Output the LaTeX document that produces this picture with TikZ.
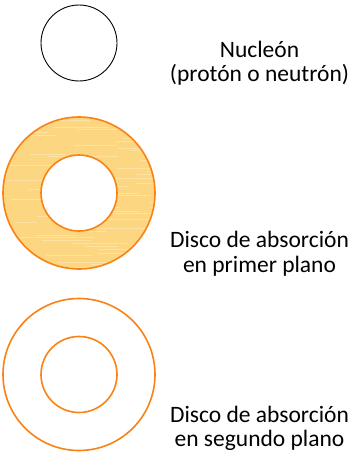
\documentclass[tikz,border=0pt]{standalone}
\usepackage{fontspec}
\setmainfont{Carlito}
\definecolor{ringorange}{HTML}{FA8214}
\definecolor{ringfill}{HTML}{FCD680}
\definecolor{streak}{HTML}{FEE6AC}
\begin{document}
\begin{tikzpicture}[x=1pt,y=-1pt,
  ring/.style={draw=ringorange,line width=1.6pt},
  nucleon/.style={draw=black,line width=0.9pt},
  label/.style={font=\fontsize{23.5}{24.5}\selectfont,align=center,inner sep=0pt}]
\useasboundingbox (0,0) rectangle (350,452);
% nucleon
\node[nucleon,circle,minimum size=76pt,inner sep=0pt] (nuc) at (79,43) {};
\node[label] (tnuc) at (259.5,63) {Nucleón\\(protón o neutrón)};
% foreground disc
\fill[ringfill,even odd rule] (79,193) circle (76) (79,193) circle (38);
\begin{scope}[even odd rule]
  \clip (79,193) circle (76) (79,193) circle (38);
  \pgfmathsetseed{7}
  \foreach \k in {0,...,50} {
    \pgfmathsetmacro{\yy}{117+\k*3+rnd*1.5}
    \pgfmathsetmacro{\xa}{rnd*150}
    \pgfmathsetmacro{\ln}{20+rnd*60}
    \draw[streak,line width=1pt,opacity=0.8] (\xa,\yy) -- ++(\ln,0);
  }
\end{scope}
\node[ring,circle,minimum size=152pt,inner sep=0pt] (outer1) at (79,193) {};
\node[ring,circle,minimum size=76pt,inner sep=0pt] (inner1) at (79,193) {};
\node[label] (t1) at (259.5,253.5) {Disco de absorción\\en primer plano};
% background disc
\node[ring,circle,minimum size=152pt,inner sep=0pt] (outer2) at (79,374.5) {};
\node[ring,circle,minimum size=76pt,inner sep=0pt] (inner2) at (79,374.5) {};
\node[label] (t2) at (259.5,428.5) {Disco de absorción\\en segundo plano};
\end{tikzpicture}
\end{document}
